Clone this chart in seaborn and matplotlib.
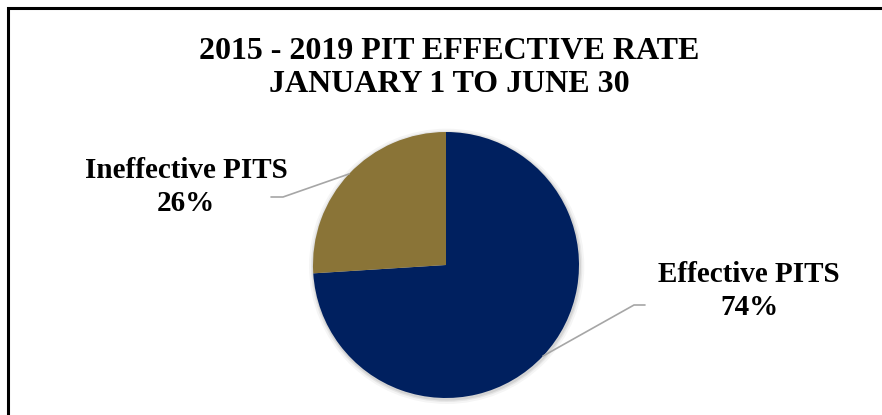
import numpy as np
import matplotlib
matplotlib.use("Agg")
import matplotlib.pyplot as plt
from matplotlib.patches import Rectangle
import seaborn as sns

# Données du graphique
categories = ["Effective PITS", "Ineffective PITS"]
values = [74, 26]
colors = ["#00205F", "#8A7437"]
title = "2015 - 2019 PIT EFFECTIVE RATE\nJANUARY 1 TO JUNE 30"

sns.set_theme(style="white")
plt.rcParams["font.family"] = ["Liberation Serif", "DejaVu Serif"]

W, H = 882, 415
cx, cy, r = 446, 265, 133

fig = plt.figure(figsize=(W / 100, H / 100), dpi=100)
ax = fig.add_axes([0, 0, 1, 1])
ax.axis("off")

# ombre légère sous le camembert
for k, a in zip([1.035, 1.02, 1.01], [0.04, 0.06, 0.08]):
    ax.add_patch(plt.Circle((0.005, -0.01), k, color="black", alpha=a, lw=0, zorder=0))

wedges, _ = ax.pie(values, colors=colors, startangle=90, counterclock=False,
                   radius=1, wedgeprops=dict(linewidth=0))
for w in wedges:
    w.set_zorder(2)

# le camembert fixe ses propres limites : on les remet après
ax.set_xlim(-cx / r, (W - cx) / r)
ax.set_ylim(-(H - cy) / r, cy / r)
ax.set_aspect("equal")

# étiquettes + lignes de rappel
label_pos = {"Effective PITS": ((749 - cx) / r, (cy - 291) / r),
             "Ineffective PITS": ((186 - cx) / r, (cy - 187) / r)}
elbow = {"Effective PITS": (((634 - cx) / r, (cy - 305) / r), ((645 - cx) / r, (cy - 305) / r)),
         "Ineffective PITS": (((283 - cx) / r, (cy - 197) / r), ((271 - cx) / r, (cy - 197) / r))}

for w, cat, val in zip(wedges, categories, values):
    ang = np.deg2rad((w.theta1 + w.theta2) / 2)
    x0, y0 = np.cos(ang), np.sin(ang)
    (x1, y1), (x2, y2) = elbow[cat]
    ax.plot([x0, x1, x2], [y0, y1, y2], color="#A6A6A6", lw=1.2, zorder=3)
    lx, ly = label_pos[cat]
    ax.text(lx, ly, f"{cat}\n{val}%", ha="center", va="center", fontsize=21,
            fontweight="bold", linespacing=1.32, color="black")

fig.text(449 / W, 1 - 68 / H, title, ha="center", va="center", fontsize=23,
         fontweight="bold", linespacing=1.15, color="black")

# cadre du graphique (haut et gauche visibles)
fig.patches.append(Rectangle((8 / W, -0.1), 1.2, 1 - 8 / H + 0.1, transform=fig.transFigure,
                             fill=False, edgecolor="black", lw=2.2, zorder=10))

fig.savefig("out.png", dpi=100)
